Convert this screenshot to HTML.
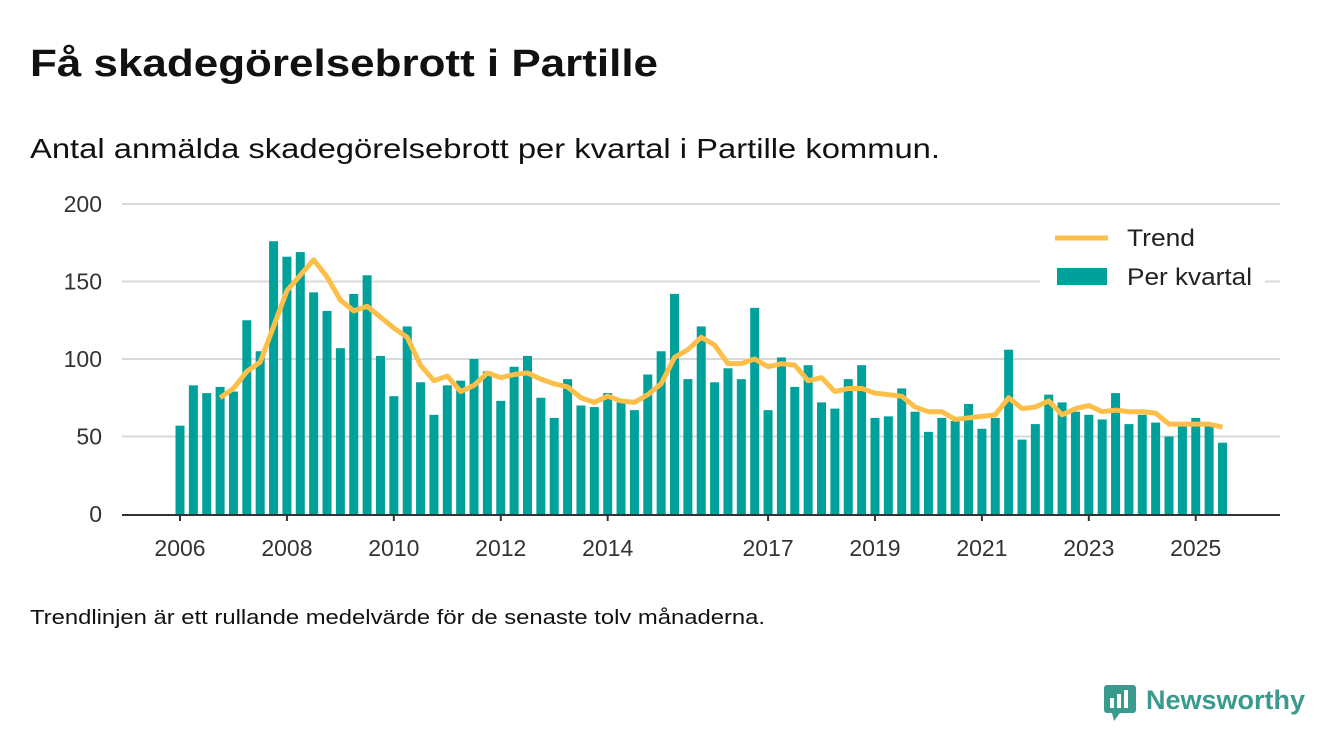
<!DOCTYPE html>
<html><head><meta charset="utf-8"><style>
body{margin:0;background:#fff;width:1340px;height:753px;overflow:hidden;font-family:"Liberation Sans",sans-serif}
svg{display:block}
</style></head><body>
<svg id="c" width="1340" height="753">
<text x="30" y="76" font-size="38" font-weight="bold" fill="#111" textLength="628" lengthAdjust="spacingAndGlyphs">Få skadegörelsebrott i Partille</text>
<text x="30" y="158" font-size="28" fill="#111" textLength="910" lengthAdjust="spacingAndGlyphs">Antal anmälda skadegörelsebrott per kvartal i Partille kommun.</text>
<text x="30" y="624" font-size="20" fill="#111" textLength="735" lengthAdjust="spacingAndGlyphs">Trendlinjen är ett rullande medelvärde för de senaste tolv månaderna.</text>
<g>
<rect x="1104" y="685" width="32" height="28" rx="3" fill="#3a9a8e"/>
<polygon points="1112,713 1120,713 1114,721" fill="#3a9a8e"/>
<rect x="1110" y="698" width="4" height="10" fill="#fff"/><rect x="1117" y="694" width="4" height="14" fill="#fff"/><rect x="1124" y="690" width="4" height="18" fill="#fff"/>
<text x="1146" y="709" font-size="27" font-weight="bold" fill="#3a9a8e">Newsworthy</text>
</g>
<g id="grid"></g><g id="bars"></g><g id="trend"></g><g id="axis"></g>
<g>
<rect x="1040" y="220" width="225" height="76" fill="#fff"/>
<line x1="1055" y1="238" x2="1108" y2="238" stroke="#fdbf47" stroke-width="5"/>
<text x="1127" y="246" font-size="24" fill="#222" textLength="68" lengthAdjust="spacingAndGlyphs">Trend</text>
<rect x="1057" y="268" width="50" height="17" fill="#00a19a"/>
<text x="1127" y="285" font-size="24" fill="#222" textLength="125" lengthAdjust="spacingAndGlyphs">Per kvartal</text>
</g>
</svg>
<script>
const barValues=[57,83,78,82,79,125,105,176,166,169,143,131,107,142,154,102,76,121,85,64,83,86,100,92,73,95,102,
75,62,87,70,69,78,72,67,90,105,142,87,121,85,94,87,133,67,101,82,96,72,68,87,96,
62,63,81,66,53,62,60,71,55,62,106,48,58,77,72,66,64,61,78,58,64,59,50,57,62,57,46];
const trendStart=3;
const trendValues=[75,81,92,98,121,144,154,164,153,138,131,134,127,120,114,96,86,89,79,83,91,88,
90,91,87,84,82,75,72,76,73,72,77,84,101,106,114,109,97,97,100,95,97,96,86,88,79,81,
81,78,77,76,69,66,66,61,62,63,64,75,68,69,73,64,68,70,66,67,66,66,65,58,58,58,58,56];
const yTicks=[0,50,100,150,200];
const xTickYears=[2006,2008,2010,2012,2014,2017,2019,2021,2023,2025];
const NS="http://www.w3.org/2000/svg";
const X=i=>180+i*13.365;
const Y=v=>514-v*1.55;
function mk(t,a,p){const e=document.createElementNS(NS,t);for(const k in a)e.setAttribute(k,a[k]);p.appendChild(e);return e;}
const g=document.getElementById('grid');
yTicks.forEach(v=>{
 if(v>0){const l=mk('line',{x1:122,x2:1280,y1:Y(v),y2:Y(v),stroke:'#d9d9d9','stroke-width':2},g);
 
 }
 const t=mk('text',{x:102,y:Y(v)+8,'text-anchor':'end','font-size':23,fill:'#333'},g);t.textContent=v;
 
 
});
const b=document.getElementById('bars');
barValues.forEach((v,i)=>{
 const r=mk('rect',{x:X(i)-4.5,y:Y(v),width:9,height:v*1.55,fill:'#00a19a'},b);
 
 
});
const pts=trendValues.map((v,k)=>X(k+trendStart)+','+Y(v)).join(' ');
const pl=mk('polyline',{points:pts,fill:'none',stroke:'#fdbf47','stroke-width':5,'stroke-linejoin':'round'},document.getElementById('trend'));


const a=document.getElementById('axis');
const al=mk('line',{x1:122,x2:1280,y1:515,y2:515,stroke:'#333','stroke-width':2},a);


xTickYears.forEach(y=>{
 const i=(y-2006)*4;
 mk('line',{x1:X(i),x2:X(i),y1:515,y2:521,stroke:'#333','stroke-width':2},a);
 const t=mk('text',{x:X(i),y:556,'text-anchor':'middle','font-size':23,fill:'#333'},a);t.textContent=y;
 
 
});
</script>
</body></html>
